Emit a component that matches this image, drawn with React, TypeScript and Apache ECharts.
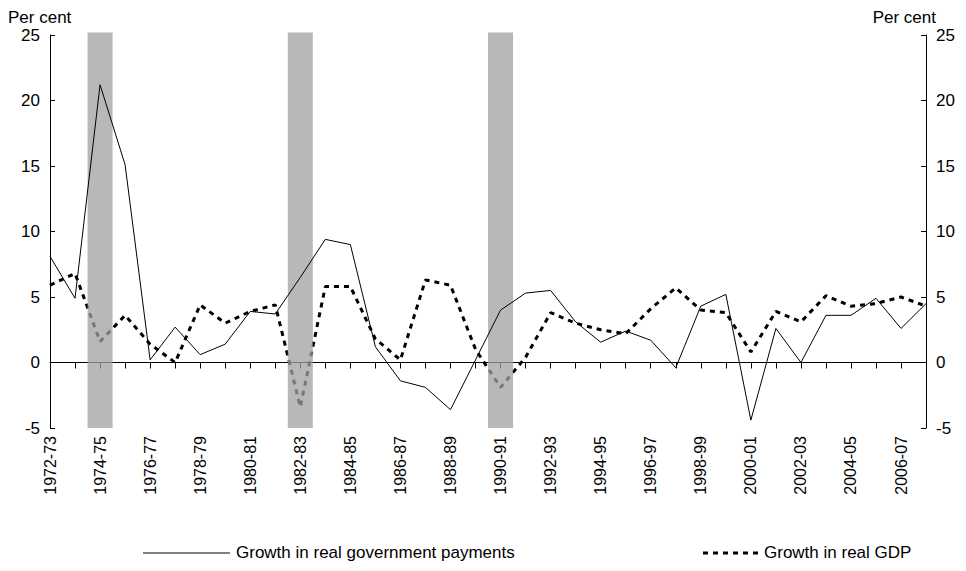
import { useEffect, useRef } from 'react'
import * as echarts from 'echarts'

const years = [
  '1972-73', '1973-74', '1974-75', '1975-76', '1976-77', '1977-78', '1978-79', '1979-80',
  '1980-81', '1981-82', '1982-83', '1983-84', '1984-85', '1985-86', '1986-87', '1987-88',
  '1988-89', '1989-90', '1990-91', '1991-92', '1992-93', '1993-94', '1994-95', '1995-96',
  '1996-97', '1997-98', '1998-99', '1999-00', '2000-01', '2001-02', '2002-03', '2003-04',
  '2004-05', '2005-06', '2006-07', '2007-08',
]
const govPayments = [
  8.1, 4.9, 21.2, 15.1, 0.2, 2.7, 0.6, 1.4, 3.9, 3.7, 6.5, 9.4, 9.0, 1.2, -1.4, -1.9,
  -3.6, 0.2, 4.0, 5.3, 5.5, 3.1, 1.55, 2.4, 1.7, -0.4, 4.3, 5.2, -4.4, 2.6, 0, 3.6,
  3.6, 4.9, 2.6, 4.5,
]
const realGdp = [
  5.9, 6.8, 1.6, 3.6, 1.4, 0, 4.4, 3.0, 3.9, 4.4, -3.4, 5.8, 5.8, 1.8, 0.2, 6.3,
  5.9, 1.0, -1.9, 0.4, 3.8, 3.0, 2.5, 2.2, 4.1, 5.7, 4.0, 3.8, 0.8, 3.9, 3.1, 5.1,
  4.3, 4.5, 5.0, 4.3,
]
const recessions = [2, 10, 18]
const yTicks = { min: -5, max: 25, interval: 5 }

const font = 'Liberation Sans, Arial, sans-serif'

export default function App() {
  const main = useRef(null)
  useEffect(() => {
    const chart = echarts.init(main.current, null, { renderer: 'svg' })
    const yAxisBase = {
      type: 'value',
      ...yTicks,
      splitLine: { show: false },
      axisLine: { show: true, lineStyle: { color: '#000' } },
      axisTick: { show: true, inside: true, length: 5, lineStyle: { color: '#000' } },
      axisLabel: { color: '#000', fontSize: 17, fontFamily: font, margin: 10 },
    }
    chart.setOption({
      animation: false,
      grid: { left: 42, right: 31, top: 27, bottom: 143 },
      xAxis: [
        {
          type: 'category',
          data: years,
          boundaryGap: false,
          position: 'bottom',
          axisLine: { show: false, onZero: false },
          axisTick: { show: false },
          axisLabel: {
            interval: 1,
            rotate: 90,
            color: '#000',
            fontSize: 16,
            fontFamily: font,
            margin: 8,
          },
        },
        {
          type: 'category',
          data: years,
          boundaryGap: false,
          position: 'bottom',
          axisLine: { show: true, onZero: true, lineStyle: { color: '#000' } },
          axisTick: { show: true, interval: 0, length: 6, lineStyle: { color: '#000' } },
          axisLabel: { show: false },
        },
        { type: 'value', min: 0, max: years.length - 1, show: false },
      ],
      yAxis: [
        { ...yAxisBase, position: 'left' },
        { ...yAxisBase, position: 'right' },
      ],
      series: [
        {
          name: 'Growth in real GDP',
          type: 'line',
          data: realGdp,
          symbol: 'none',
          lineStyle: { color: '#000', width: 3, type: [5, 5] },
          z: 1,
        },
        {
          type: 'custom',
          xAxisIndex: 2,
          yAxisIndex: 0,
          data: recessions.map((r) => [r]),
          renderItem: (params: any, api: any) => {
            const x = api.value(0)
            const p1 = api.coord([x - 0.5, 25.2])
            const p2 = api.coord([x + 0.5, -5])
            return {
              type: 'rect',
              shape: { x: p1[0], y: p1[1], width: p2[0] - p1[0], height: p2[1] - p1[1] },
              style: { fill: 'rgba(160,160,160,0.75)' },
            }
          },
          z: 2,
        },
        {
          name: 'Growth in real government payments',
          type: 'line',
          data: govPayments,
          symbol: 'none',
          lineStyle: { color: '#000', width: 1 },
          z: 3,
        },
      ],
      graphic: [
        { type: 'text', left: 0, top: 1, style: { text: 'Per cent', fontSize: 17, fontFamily: font, fill: '#000' } },
        { type: 'text', right: 22, top: 1, style: { text: 'Per cent', fontSize: 17, fontFamily: font, fill: '#000' } },
        { type: 'line', shape: { x1: 135, y1: 545, x2: 222, y2: 545 }, style: { stroke: '#000', lineWidth: 1 } },
        { type: 'text', x: 228, y: 536, style: { text: 'Growth in real government payments', fontSize: 17, fontFamily: font, fill: '#000' } },
        { type: 'line', shape: { x1: 695, y1: 545, x2: 750, y2: 545 }, style: { stroke: '#000', lineWidth: 3, lineDash: [5, 5] } },
        { type: 'text', x: 756, y: 536, style: { text: 'Growth in real GDP', fontSize: 17, fontFamily: font, fill: '#000' } },
      ],
    })
    return () => chart.dispose()
  }, [])
  return <div ref={main} style={{ width: 950, height: 563 }} />
}
